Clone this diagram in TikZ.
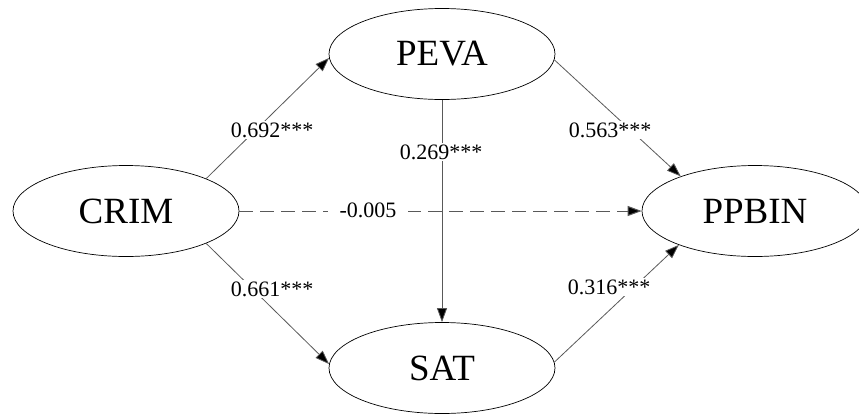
\documentclass[tikz,border=0pt]{standalone}
\usepackage{fontspec}
\setmainfont{Liberation Serif}
\usetikzlibrary{shapes.geometric,arrows.meta}
\begin{document}
\begin{tikzpicture}[x=1pt,y=-1pt,
  var/.style={ellipse,draw=black,line width=0.7pt,minimum width=226pt,minimum height=91pt,inner sep=0pt,font=\fontsize{37}{40}\selectfont},
  conn/.style={draw=black!65,line width=0.8pt,-{Triangle[length=14pt,width=10pt,fill=black]}},
  dconn/.style={conn,line width=1pt,dash pattern=on 14pt off 7pt},
  lbl/.style={fill=white,inner sep=1.5pt,font=\fontsize{22}{24}\selectfont}]
\useasboundingbox (0,0) rectangle (859,413);
\node[var] (crim) at (126,211) {CRIM};
\node[var] (peva) at (442,54) {PEVA};
\node[var] (sat) at (442,368) {SAT};
\node[var] (ppbin) at (755,211) {PPBIN};
\draw[conn] (crim.22) -- (peva.182);
\draw[conn] (crim.-22) -- (sat.178);
\draw[conn] (peva.south) -- (sat.north);
\draw[conn] (peva.-3) -- (ppbin.155);
\draw[conn] (sat.3) -- (ppbin.204);
\draw[dconn] (crim.east) -- (ppbin.west);
\node[lbl] (l1) at (272,130) {0.692***};
\node[lbl] (l2) at (272,289) {0.661***};
\node[lbl] (l3) at (441,152) {0.269***};
\node[lbl] (l4) at (610,130) {0.563***};
\node[lbl] (l5) at (609,287) {0.316***};
\node[lbl,inner xsep=12pt] (l6) at (368,210) {-0.005};
\end{tikzpicture}
\end{document}
